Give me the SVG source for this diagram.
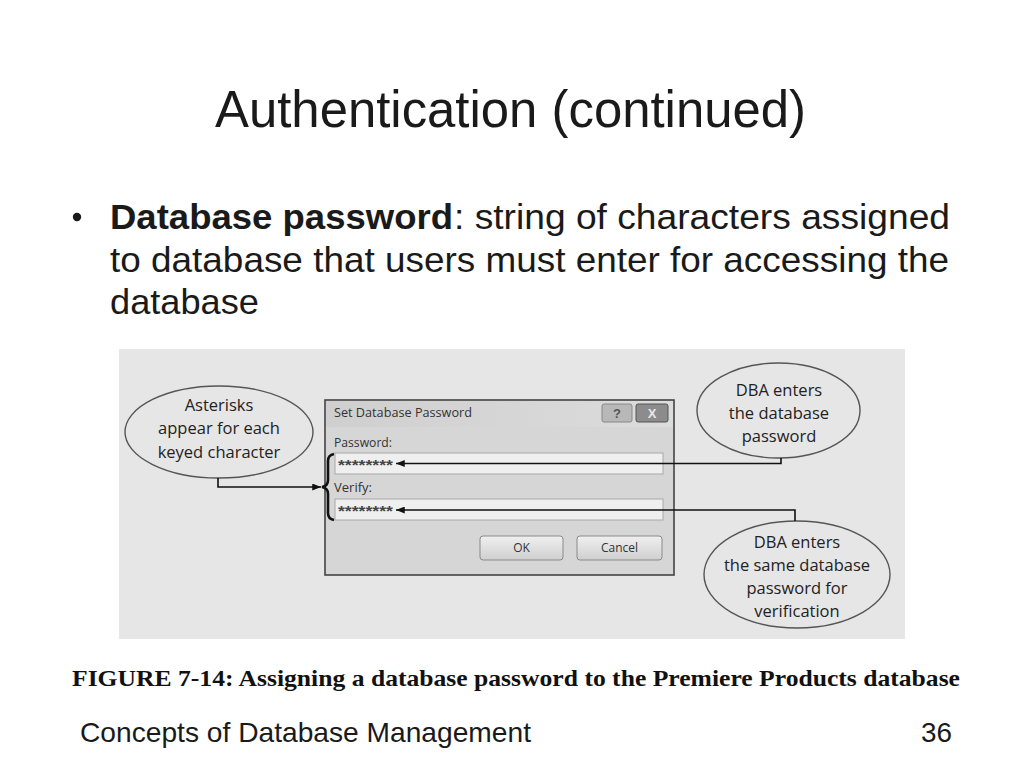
<svg xmlns="http://www.w3.org/2000/svg" width="1024" height="768" viewBox="0 0 1024 768">
<defs>
<style>
.sans{font-family:"Liberation Sans",Arial,sans-serif;fill:#1a1a1a}
.call{font-family:"Open Sans","Liberation Sans",sans-serif;font-size:16.5px;fill:#222;text-anchor:middle}
.dlg{font-family:"Open Sans","Liberation Sans",sans-serif;font-size:12px;fill:#333}
.ell{fill:#e6e6e6;stroke:#555;stroke-width:1.4}
.conn{fill:none;stroke:#111;stroke-width:1.6}
.tbox{fill:#efefef;stroke:#a8a8a8;stroke-width:1}
.btn{fill:url(#btng);stroke:#8a8a8a;stroke-width:1}
</style>
<linearGradient id="btng" x1="0" y1="0" x2="0" y2="1">
<stop offset="0" stop-color="#f0f0f0"/><stop offset="1" stop-color="#cfcfcf"/>
</linearGradient>
<linearGradient id="titg" x1="0" y1="0" x2="1" y2="0">
<stop offset="0" stop-color="#cfcfcf"/><stop offset="1" stop-color="#dcdcdc"/>
</linearGradient>
<marker id="ah" viewBox="0 0 10 8" refX="10" refY="4" markerWidth="9" markerHeight="7" markerUnits="userSpaceOnUse" orient="auto">
<path d="M0,0 L10,4 L0,8 z" fill="#111"/>
</marker>
</defs>
<rect width="1024" height="768" fill="#ffffff"/>

<g id="title">
<text class="sans" x="215" y="127" font-size="52" textLength="591" lengthAdjust="spacingAndGlyphs">Authentication (continued)</text>
</g>

<g id="bullet">
<circle cx="77" cy="217" r="4.2" fill="#1a1a1a"/>
<text class="sans" x="110" y="229" font-size="35" font-weight="bold" textLength="343" lengthAdjust="spacingAndGlyphs">Database password</text>
<text class="sans" x="454" y="229" font-size="35" textLength="496" lengthAdjust="spacingAndGlyphs">: string of characters assigned</text>
<text class="sans" x="110" y="272" font-size="35" textLength="839" lengthAdjust="spacingAndGlyphs">to database that users must enter for accessing the</text>
<text class="sans" x="110" y="314" font-size="35" textLength="149" lengthAdjust="spacingAndGlyphs">database</text>
</g>

<g id="figure-background">
<rect x="119" y="349" width="786" height="290" fill="#e6e6e6"/>
</g>

<g id="node-dialog">
<rect x="325" y="400" width="349" height="175" fill="#d6d6d6" stroke="#444" stroke-width="1.6"/>
<rect x="326" y="401" width="347" height="26" fill="url(#titg)"/>
<text class="dlg" x="334" y="417" textLength="138" lengthAdjust="spacingAndGlyphs">Set Database Password</text>
<rect x="602" y="404" width="30" height="18" rx="2" fill="#b8b8b8" stroke="#888"/>
<text x="617" y="418" font-family="'Liberation Sans',sans-serif" font-size="13" font-weight="bold" fill="#555" text-anchor="middle">?</text>
<rect x="636" y="404" width="32" height="18" rx="2" fill="#8c8c8c" stroke="#555"/>
<text x="652" y="418" font-family="'Liberation Sans',sans-serif" font-size="13" font-weight="bold" fill="#e8e8e8" text-anchor="middle">X</text>
<text class="dlg" x="334" y="447" textLength="58" lengthAdjust="spacingAndGlyphs">Password:</text>
<rect class="tbox" x="335" y="453" width="328" height="21"/>
<text x="338" y="470" font-family="'Liberation Sans',sans-serif" font-size="14" font-weight="bold" fill="#444" textLength="55" lengthAdjust="spacingAndGlyphs">********</text>
<text class="dlg" x="334" y="492" textLength="38" lengthAdjust="spacingAndGlyphs">Verify:</text>
<rect class="tbox" x="335" y="499" width="328" height="21"/>
<text x="338" y="516" font-family="'Liberation Sans',sans-serif" font-size="14" font-weight="bold" fill="#444" textLength="55" lengthAdjust="spacingAndGlyphs">********</text>
<rect class="btn" x="480" y="536" width="83" height="24" rx="3"/>
<text class="dlg" x="521.5" y="552" text-anchor="middle">OK</text>
<rect class="btn" x="577" y="536" width="85" height="24" rx="3"/>
<text class="dlg" x="619.5" y="552" text-anchor="middle">Cancel</text>
<path d="M334,454 Q328,455 328,461 V480 Q328,486 322,487 Q328,488 328,494 V513 Q328,519 334,520" fill="none" stroke="#111" stroke-width="2.6"/>
</g>

<g id="node-asterisks">
<ellipse class="ell" cx="219" cy="432" rx="94" ry="46"/>
<text class="call" x="219" y="411">Asterisks</text>
<text class="call" x="219" y="434">appear for each</text>
<text class="call" x="219" y="458">keyed character</text>
</g>

<g id="node-dba-enters">
<ellipse class="ell" cx="778.5" cy="410.5" rx="81.5" ry="47.5"/>
<text class="call" x="779" y="396">DBA enters</text>
<text class="call" x="779" y="419">the database</text>
<text class="call" x="779" y="442">password</text>
</g>

<g id="node-dba-verify">
<ellipse class="ell" cx="797" cy="574.5" rx="93" ry="53.5"/>
<text class="call" x="797" y="548">DBA enters</text>
<text class="call" x="797" y="571">the same database</text>
<text class="call" x="797" y="594">password for</text>
<text class="call" x="797" y="617">verification</text>
</g>

<g id="connectors">
<path class="conn" d="M218,478 V487 H321" marker-end="url(#ah)"/>
<path class="conn" d="M781,458 V463.5 H396" marker-end="url(#ah)"/>
<path class="conn" d="M795,521 V510 H396" marker-end="url(#ah)"/>
</g>

<g id="caption">
<text x="72" y="686" font-family="'Liberation Serif','Times New Roman',serif" font-size="23" font-weight="bold" fill="#111" textLength="888" lengthAdjust="spacingAndGlyphs">FIGURE 7-14: Assigning a database password to the Premiere Products database</text>
</g>

<g id="footer">
<text class="sans" x="80" y="742" font-size="28" textLength="451" lengthAdjust="spacingAndGlyphs">Concepts of Database Management</text>
<text class="sans" x="921" y="742" font-size="28" textLength="31" lengthAdjust="spacingAndGlyphs">36</text>
</g>
</svg>
